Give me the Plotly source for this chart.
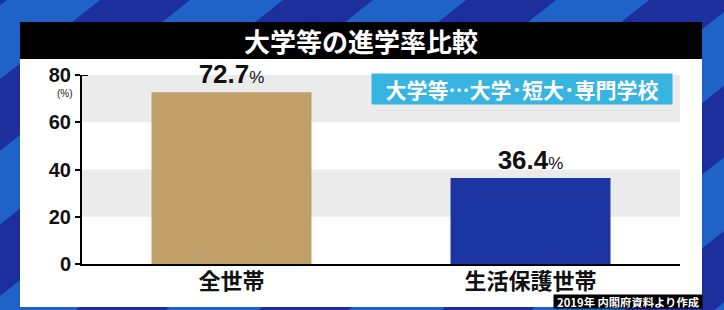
import plotly.graph_objects as go

# ---- data ----
categories = ["全世帯", "生活保護世帯"]
values = [72.7, 36.4]
bar_colors = ["#c0a068", "#1d35a3"]
y_ticks = [0, 20, 40, 60, 80]
title_text = "大学等の進学率比較"
note_text = "大学等…大学･短大･専門学校"
source_text = "2019年 内閣府資料より作成"
unit_text = "(%)"

# ---- layout geometry (pixels) ----
W_FIG, H_FIG = 724, 310
L, R, T, B = 82, 44, 75, 46
PW = W_FIG - L - R
PH = H_FIG - T - B


def px(x):
    return (x - L) / PW


def py(y):
    return (T + PH - y) / PH


JP = "Noto Sans CJK JP"
NUM = "Liberation Sans, Arial, sans-serif"

fig = go.Figure()
fig.add_trace(go.Bar(
    x=categories,
    y=values,
    width=0.535,
    marker=dict(color=bar_colors, line=dict(width=0)),
    texttemplate="<b>%{y:.1f}</b><span style='font-size:17px'>%</span>",
    textposition="outside",
    textfont=dict(family=NUM, size=26, color="#111111"),
    cliponaxis=False,
    hoverinfo="skip",
))

shapes = []
# dark diagonal stripes over light-blue paper
k, P, D, c0 = 1.26, 183, 90, 100
for n in range(-1, 7):
    c = c0 + n * P
    path = "M {:.4f},{:.4f} L {:.4f},{:.4f} L {:.4f},{:.4f} L {:.4f},{:.4f} Z".format(
        px(c), py(0), px(c + D), py(0),
        px(c + D - k * H_FIG), py(H_FIG), px(c - k * H_FIG), py(H_FIG))
    shapes.append(dict(type="path", path=path, xref="paper", yref="paper",
                       fillcolor="#1c2f9c", line=dict(width=0), layer="below"))
# white panel
shapes.append(dict(type="rect", xref="paper", yref="paper",
                   x0=px(20), x1=px(702), y0=py(59), y1=py(307),
                   fillcolor="white", line=dict(width=0), layer="below"))
# black title bar
shapes.append(dict(type="rect", xref="paper", yref="paper",
                   x0=px(20), x1=px(702), y0=py(22), y1=py(59),
                   fillcolor="black", line=dict(width=0), layer="below"))
# grey bands
for y0, y1 in [(20, 40), (60, 80)]:
    shapes.append(dict(type="rect", xref="paper", yref="y",
                       x0=0, x1=1, y0=y0, y1=y1,
                       fillcolor="#ebebeb", line=dict(width=0), layer="below"))
# small cap tick at the top of the y axis
shapes.append(dict(type="line", xref="paper", yref="y",
                   x0=0, x1=px(88), y0=y_ticks[-1], y1=y_ticks[-1],
                   line=dict(color="black", width=2)))

annotations = [
    dict(text="<b>" + title_text + "</b>", xref="paper", yref="paper",
         x=px(361), y=py(41), showarrow=False,
         font=dict(family=JP, size=26, color="white"),
         xanchor="center", yanchor="middle"),
    dict(text="<b>" + note_text + "</b>", xref="paper", yref="paper",
         x=px(522), y=py(89), showarrow=False,
         font=dict(family=JP, size=21, color="white"),
         bgcolor="#38b4e0", borderpad=2, width=296, height=26,
         xanchor="center", yanchor="middle"),
    dict(text=unit_text, xref="paper", yref="paper",
         x=px(65), y=py(93), showarrow=False,
         font=dict(family=NUM, size=10, color="#222222"),
         xanchor="center", yanchor="middle"),
    dict(text="<b>" + source_text + "</b>", xref="paper", yref="paper",
         x=px(627.5), y=py(301), showarrow=False,
         font=dict(family=JP, size=11.3, color="white"),
         bgcolor="black", width=147, height=12, borderpad=0.5,
         xanchor="center", yanchor="middle"),
]

fig.update_layout(
    width=W_FIG, height=H_FIG,
    margin=dict(l=L, r=R, t=T, b=B, pad=0),
    paper_bgcolor="#1f63c9",
    plot_bgcolor="rgba(0,0,0,0)",
    showlegend=False,
    shapes=shapes,
    annotations=annotations,
)
fig.update_xaxes(
    range=[-0.5, 1.5],
    showline=True, linecolor="black", linewidth=2,
    showgrid=False, ticks="",
    tickfont=dict(family=JP, size=22, color="#111111", weight="bold"),
    ticklabelstandoff=-3,
    fixedrange=True,
)
fig.update_yaxes(
    range=[0, 80],
    tickvals=y_ticks,
    showline=True, linecolor="black", linewidth=2,
    ticks="outside", ticklen=5, tickwidth=2, tickcolor="black",
    showgrid=False, zeroline=False,
    tickfont=dict(family=NUM, size=20, color="#111111", weight="bold"),
    fixedrange=True,
)

fig.write_html("out.html", config={"displayModeBar": False})
